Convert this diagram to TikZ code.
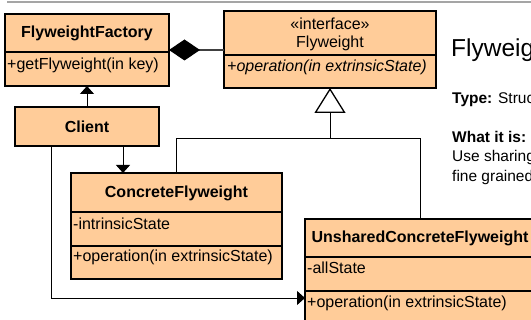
\documentclass[tikz,border=0pt]{standalone}
\usepackage{fontspec}
\setmainfont{Liberation Sans}
\usetikzlibrary{arrows.meta}
\definecolor{peach}{RGB}{255,204,153}
\definecolor{rulegray}{RGB}{165,165,165}

\begin{document}
\begin{tikzpicture}[x=1pt, y=-1pt,
        classbox/.style={draw, fill=peach, line width=1.6pt, inner sep=0pt, outer sep=0pt, anchor=north west},
        divider/.style={line width=1.6pt},
        classname/.style={inner sep=0pt, font=\fontsize{16}{19}\selectfont\bfseries},
        plainname/.style={inner sep=0pt, font=\fontsize{16}{19}\selectfont},
        member/.style={inner sep=0pt, anchor=west, font=\fontsize{16}{19}\selectfont},
        abstractop/.style={inner sep=0pt, anchor=west, font=\fontsize{16}{19}\selectfont\itshape},
        assoc/.style={line width=0.9pt, -{Triangle[width=14pt, length=8pt]}},
        inherit/.style={line width=0.9pt, -{Triangle[width=31pt, length=25pt, fill=white, line width=1.3pt]}},
        compose/.style={line width=1.8pt, draw=black!75, -{Diamond[width=21pt, length=31pt, color=black, fill=black]}},
        notes/.style={inner sep=0pt, anchor=west, font=\fontsize{15.5}{18}\selectfont}]

        \useasboundingbox (0,0) rectangle (531,320);
        \clip (0,0) rectangle (531,320);

        % Header rule --  --  --  --  --  --  --  --  --  --  --  --  --
        \draw[line width=2pt, rulegray] (7,2) -- (531,2);

        % Classes --  --  --  --  --  --  --  --  --  --  --  --  --  --
        % FlyweightFactory
        \node[classbox, minimum width=164pt, minimum height=72pt] (factory) at (5,14) {};
        \draw[divider] (factory.west |- 0,52) -- (factory.east |- 0,52);
        \node[classname] (factoryName) at (87,33) {FlyweightFactory};
        \node[member] (factoryGet) at (7,65) {+getFlyweight(in key)};

        % Flyweight interface
        \node[classbox, minimum width=212pt, minimum height=77pt] (flyweight) at (224,11) {};
        \draw[divider] (flyweight.west |- 0,55) -- (flyweight.east |- 0,55);
        \node[plainname] (flyweightStereo) at (330,24) {«interface»};
        \node[plainname] (flyweightName) at (330,43) {Flyweight};
        \node[abstractop] (flyweightOp) at (227,67) {+operation(in extrinsicState)};

        % Client
        \node[classbox, classname, anchor=north west, minimum width=144pt, minimum height=39pt] (client) at (15,107) {Client};

        % ConcreteFlyweight
        \node[classbox, minimum width=211pt, minimum height=106pt] (concrete) at (71,173) {};
        \draw[divider] (concrete.west |- 0,212) -- (concrete.east |- 0,212);
        \draw[divider] (concrete.west |- 0,246) -- (concrete.east |- 0,246);
        \node[classname] (concreteName) at (176.5,193) {ConcreteFlyweight};
        \node[member] (concreteState) at (73,224) {-intrinsicState};
        \node[member] (concreteOp) at (73,257) {+operation(in extrinsicState)};

        % UnsharedConcreteFlyweight
        \node[classbox, minimum width=230pt, minimum height=107pt] (unshared) at (305,219) {};
        \draw[divider] (unshared.west |- 0,257) -- (unshared.east |- 0,257);
        \draw[divider] (unshared.west |- 0,291) -- (unshared.east |- 0,291);
        \node[classname] (unsharedName) at (420,238) {UnsharedConcreteFlyweight};
        \node[member] (unsharedState) at (307,268) {-allState};
        \node[member] (unsharedOp) at (307,303) {+operation(in extrinsicState)};

        % Relations --  --  --  --  --  --  --  --  --  --  --  --  --  -
        % composition
        \draw[compose] (flyweight.west |- factory.east) -- (factory.east);

        % generalization
        \coordinate (branch) at (330,138);
        \draw[inherit] (concrete.north) |- (branch) -- (flyweight.south);
        \draw[line width=0.9pt] (unshared.north) |- (branch);

        % client associations
        \draw[assoc] (client.north) -- (factory.south);
        \draw[assoc] ([xshift=36pt]client.south) -- ([xshift=36pt]client.south |- concrete.north);
        \draw[assoc] ([xshift=-36pt]client.south) |- (unshared.west |- 0,298);

        % Notes --  --  --  --  --  --  --  --  --  --  --  --  --  --  -
        \node[notes, font=\fontsize{24.5}{29}\selectfont] (title) at (451,50) {Flyweight};
        \node[notes] (typeLine) at (452,99) {\textbf{Type:} Structural};
        \node[notes, font=\fontsize{15.5}{18}\selectfont\bfseries] (whatHead) at (452,137) {What it is:};
        \node[notes] (whatLine1) at (452,157) {Use sharing};
        \node[notes] (whatLine2) at (452,177) {fine grained};
\end{tikzpicture}
\end{document}
